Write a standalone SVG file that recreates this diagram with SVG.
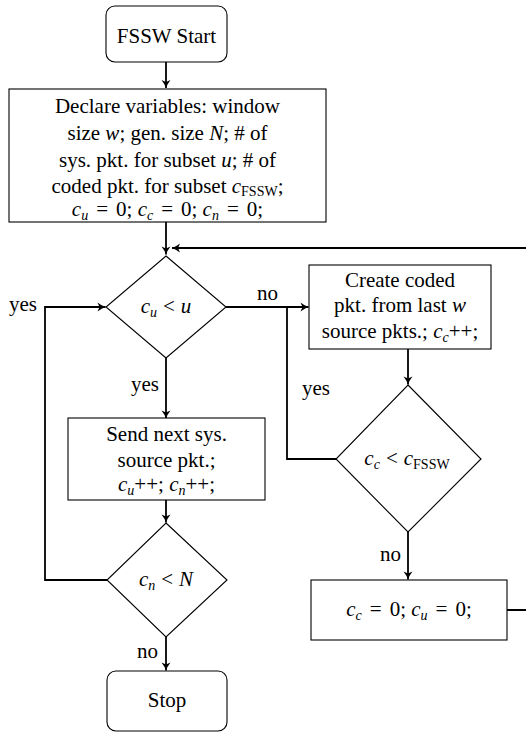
<svg xmlns="http://www.w3.org/2000/svg" width="526" height="733" viewBox="0 0 526 733">
<style>
.t { font-family: "Liberation Serif", "Times New Roman", serif; font-size: 21px; fill: #000; text-anchor: middle; }
.l { text-anchor: start; }
.i { font-style: italic; }
.s { font-size: 14px; }
.node { fill: #fff; stroke: #000; stroke-width: 1.1; }
.conn { fill: none; stroke: #000; stroke-width: 1.8; }
.arr { fill: none; stroke: #000; stroke-width: 1.8; marker-end: url(#ah); }
</style>
<defs>
<marker id="ah" viewBox="-9 -5 10 10" refX="0" refY="0" markerWidth="10" markerHeight="10" markerUnits="userSpaceOnUse" orient="auto">
<path d="M-8,-4.5 Q-3.5,-1 0,0 Q-3.5,1 -8,4.5 L-6,0 Z" fill="#000"/>
</marker>
</defs>
<rect width="526" height="733" fill="#fff"/>

<g id="connectors">
<path class="arr" d="M166,62 V88"/>
<path class="arr" d="M166,222 V254.5"/>
<path class="arr" d="M507,610 H540 V248 H172"/>
<path class="arr" d="M226,307 H308.5"/>
<path class="conn" d="M336,459 H287 V307"/>
<path class="arr" d="M408,349 V384.5"/>
<path class="arr" d="M408,532 V579.5"/>
<path class="arr" d="M166,358 V418.5"/>
<path class="arr" d="M166,500 V522.5"/>
<path class="arr" d="M107,580 H45 V307 H105.5"/>
<path class="arr" d="M166,637 V670.5"/>
</g>

<g id="start">
<rect class="node" x="106" y="6" width="121" height="56" rx="9"/>
<text class="t" x="166.5" y="43">FSSW Start</text>
</g>

<g id="declare">
<rect class="node" x="9" y="89" width="317" height="133"/>
<text class="t" x="167.5" y="113">Declare variables: window</text>
<text class="t" x="167.5" y="140">size <tspan class="i">w</tspan>; gen. size <tspan class="i">N</tspan>; # of</text>
<text class="t" x="167.5" y="166.5">sys. pkt. for subset <tspan class="i">u</tspan>; # of</text>
<text class="t" x="167.5" y="192.5">coded pkt. for subset <tspan class="i">c</tspan><tspan class="s" dy="3">FSSW</tspan><tspan dy="-3">;</tspan></text>
<text class="t" x="167.5" y="216"><tspan class="i">c</tspan><tspan class="s i" dy="4">u</tspan><tspan dx="8" dy="-4">=</tspan><tspan dx="8">0;</tspan> <tspan class="i">c</tspan><tspan class="s i" dy="4">c</tspan><tspan dx="8" dy="-4">=</tspan><tspan dx="8">0;</tspan> <tspan class="i">c</tspan><tspan class="s i" dy="4">n</tspan><tspan dx="8" dy="-4">=</tspan><tspan dx="8">0;</tspan></text>
</g>

<g id="check-cu">
<polygon class="node" points="166,256 226,307 166,358 106,307"/>
<text class="t" x="166" y="313"><tspan class="i">c</tspan><tspan class="s i" dy="4">u</tspan><tspan dx="6" dy="-4">&lt;</tspan><tspan class="i" dx="6">u</tspan></text>
</g>

<g id="create">
<rect class="node" x="309" y="265" width="182" height="84"/>
<text class="t" x="400" y="287">Create coded</text>
<text class="t" x="400" y="312">pkt. from last <tspan class="i">w</tspan></text>
<text class="t" x="400" y="338">source pkts.; <tspan class="i">c</tspan><tspan class="s i" dy="4">c</tspan><tspan dy="-4">++;</tspan></text>
</g>

<g id="check-cc">
<polygon class="node" points="408,385 481,459 408,532 336,459"/>
<text class="t" x="407" y="465"><tspan class="i">c</tspan><tspan class="s i" dy="4">c</tspan><tspan dx="6" dy="-4">&lt;</tspan><tspan class="i" dx="6">c</tspan><tspan class="s" dy="4">FSSW</tspan></text>
</g>

<g id="reset">
<rect class="node" x="311" y="580" width="196" height="60"/>
<text class="t" x="409" y="616"><tspan class="i">c</tspan><tspan class="s i" dy="4">c</tspan><tspan dx="8" dy="-4">=</tspan><tspan dx="8">0;</tspan> <tspan class="i">c</tspan><tspan class="s i" dy="4">u</tspan><tspan dx="8" dy="-4">=</tspan><tspan dx="8">0;</tspan></text>
</g>

<g id="send">
<rect class="node" x="68" y="418" width="197" height="82"/>
<text class="t" x="166.5" y="441">Send next sys.</text>
<text class="t" x="166.5" y="467">source pkt.;</text>
<text class="t" x="166.5" y="491"><tspan class="i">c</tspan><tspan class="s i" dy="4">u</tspan><tspan dy="-4">++; </tspan><tspan class="i">c</tspan><tspan class="s i" dy="4">n</tspan><tspan dy="-4">++;</tspan></text>
</g>

<g id="check-cn">
<polygon class="node" points="166,523 227,580 166,637 107,580"/>
<text class="t" x="166" y="586"><tspan class="i">c</tspan><tspan class="s i" dy="4">n</tspan><tspan dx="6" dy="-4">&lt;</tspan><tspan class="i" dx="6">N</tspan></text>
</g>

<g id="stop">
<rect class="node" x="107" y="671" width="120" height="60" rx="9"/>
<text class="t" x="167" y="707">Stop</text>
</g>

<g id="labels">
<text class="t l" x="9" y="311">yes</text>
<text class="t l" x="257" y="300">no</text>
<text class="t l" x="131" y="391">yes</text>
<text class="t l" x="302" y="395">yes</text>
<text class="t l" x="380" y="561">no</text>
<text class="t l" x="137" y="658">no</text>
</g>
</svg>
